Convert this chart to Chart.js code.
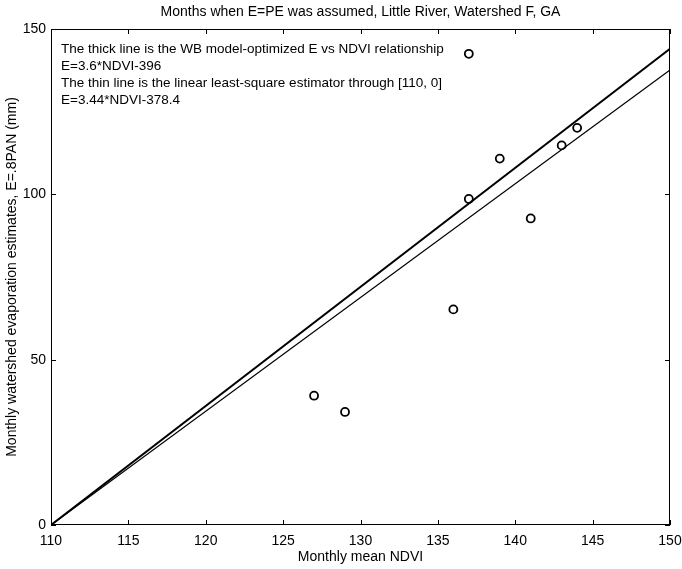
<!DOCTYPE html>
<html>
<head>
<meta charset="utf-8">
<script src="https://cdn.jsdelivr.net/npm/chart.js@4/dist/chart.umd.min.js"></script>
<style>
  html, body { margin: 0; padding: 0; background: #fff; }
  #wrap { width: 682px; height: 569px; }
</style>
</head>
<body>
<div id="wrap"><canvas id="chart" width="682" height="569"></canvas></div>
<script>
// DATA
const ndvi = [137, 139, 137, 141, 143, 144, 136, 127, 129];
const evap = [142.5, 110.8, 98.6, 92.7, 114.8, 120.1, 65.2, 39.1, 34.2];
const lineX = [110, 150];
const thickLine = [0, 144];     // E=3.6*NDVI-396
const thinLine = [0, 137.6];    // E=3.44*NDVI-378.4
const xTicks = [110, 115, 120, 125, 130, 135, 140, 145, 150];
const yTicks = [0, 50, 100, 150];
const noteLines = [
  'The thick line is the WB model-optimized E vs NDVI relationship',
  'E=3.6*NDVI-396',
  'The thin line is the linear least-square estimator through [110, 0]',
  'E=3.44*NDVI-378.4'
];

const FONT = "'Liberation Sans', Arial, Helvetica, sans-serif";
Chart.defaults.font.family = FONT;
Chart.defaults.color = '#000';

function toPoints(xs, ys) {
  return xs.map((x, i) => ({x: x, y: ys[i]}));
}

// frame + inward ticks, MATLAB style
const framePlugin = {
  id: 'frame',
  afterDatasetsDraw(chart) {
    const {ctx, chartArea: a, scales} = chart;
    ctx.save();
    ctx.strokeStyle = '#000';
    ctx.lineWidth = 1;
    ctx.strokeRect(a.left + 0.5, a.top + 0.5, a.right - a.left - 1, a.bottom - a.top - 1);
    const len = 5;
    ctx.beginPath();
    xTicks.forEach(v => {
      const px = Math.round(scales.x.getPixelForValue(v)) + 0.5;
      ctx.moveTo(px, a.bottom); ctx.lineTo(px, a.bottom - len);
      ctx.moveTo(px, a.top); ctx.lineTo(px, a.top + len);
    });
    yTicks.forEach(v => {
      const py = Math.round(scales.y.getPixelForValue(v)) + 0.5;
      ctx.moveTo(a.left, py); ctx.lineTo(a.left + len, py);
      ctx.moveTo(a.right, py); ctx.lineTo(a.right - len, py);
    });
    ctx.stroke();
    ctx.restore();
  }
};

// text block in the upper left of the plot
const notesPlugin = {
  id: 'notes',
  afterDraw(chart) {
    const {ctx, chartArea: a} = chart;
    ctx.save();
    ctx.fillStyle = '#000';
    ctx.font = '13.5px ' + FONT;
    ctx.textBaseline = 'middle';
    ctx.textAlign = 'left';
    noteLines.forEach((t, i) => {
      ctx.fillText(t, a.left + 10, a.top + 20 + i * 17);
    });
    ctx.restore();
  }
};

new Chart(document.getElementById('chart'), {
  type: 'scatter',
  data: {
    datasets: [
      {
        label: 'thick',
        data: toPoints(lineX, thickLine),
        showLine: true,
        borderColor: '#000',
        borderWidth: 2,
        pointRadius: 0
      },
      {
        label: 'thin',
        data: toPoints(lineX, thinLine),
        showLine: true,
        borderColor: '#000',
        borderWidth: 1.2,
        pointRadius: 0
      },
      {
        label: 'months',
        data: toPoints(ndvi, evap),
        pointStyle: 'circle',
        pointRadius: 4,
        pointBorderWidth: 1.8,
        pointBorderColor: '#000',
        pointBackgroundColor: 'rgba(255,255,255,0)'
      }
    ]
  },
  options: {
    responsive: false,
    animation: false,
    layout: { padding: { left: 0, right: 12, top: 0, bottom: 0 } },
    plugins: {
      legend: { display: false },
      tooltip: { enabled: false },
      title: {
        display: true,
        fullSize: false,
        text: 'Months when E=PE was assumed, Little River, Watershed F, GA',
        font: { size: 14, weight: 'normal' },
        color: '#000',
        padding: { top: 4, bottom: 8.2 }
      }
    },
    scales: {
      x: {
        type: 'linear',
        min: 110,
        max: 150,
        afterBuildTicks: s => { s.ticks = xTicks.map(v => ({value: v})); },
        afterFit: s => { s.height = 44; s.paddingLeft = 0; s.paddingRight = 0; },
        grid: { display: false, drawTicks: false },
        border: { display: false },
        ticks: { font: { size: 14 }, padding: 8, color: '#000', maxRotation: 0 },
        title: {
          display: true,
          text: 'Monthly mean NDVI',
          font: { size: 14 },
          color: '#000',
          padding: { top: 0, bottom: 3.6 }
        }
      },
      y: {
        type: 'linear',
        min: 0,
        max: 150,
        afterBuildTicks: s => { s.ticks = yTicks.map(v => ({value: v})); },
        afterFit: s => { s.width = 51; },
        grid: { display: false, drawTicks: false },
        border: { display: false },
        ticks: { font: { size: 14 }, padding: 5, color: '#000' },
        title: {
          display: true,
          text: 'Monthly watershed evaporation estimates, E=.8PAN (mm)',
          font: { size: 14 },
          color: '#000',
          padding: { top: 3.6, bottom: 0 }
        }
      }
    }
  },
  plugins: [framePlugin, notesPlugin]
});
</script>
</body>
</html>
